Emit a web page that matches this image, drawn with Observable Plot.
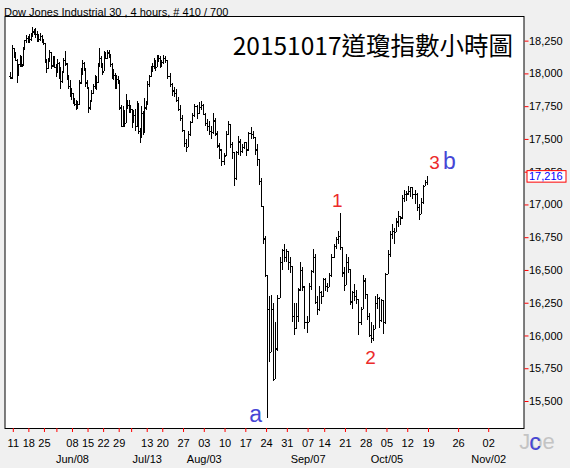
<!DOCTYPE html>
<html><head><meta charset="utf-8">
<script src="https://cdn.jsdelivr.net/npm/d3@7"></script>
<script src="https://cdn.jsdelivr.net/npm/@observablehq/plot@0.6"></script>
<style>html,body{margin:0;padding:0;background:#f0f0f0;overflow:hidden}</style>
</head><body><div id="chart"></div>
<script>
// ---- data: two 4-hour-ish bars per trading day [open, high, low, close]
const may = [
 ["05-08",[17980,18010,17955,17965],[17970,18215,17960,18191]],
 ["05-11",[18191,18195,18120,18140],[18140,18160,18095,18105]],
 ["05-12",[18100,18110,17930,17990],[17990,18070,17980,18068]],
 ["05-13",[18070,18140,18050,18120],[18120,18130,18050,18060]],
 ["05-14",[18070,18200,18060,18190],[18190,18255,18180,18252]],
 ["05-15",[18252,18290,18230,18270],[18270,18285,18235,18272]],
 ["05-18",[18270,18300,18230,18260],[18260,18305,18250,18298]],
 ["05-19",[18300,18351,18280,18320],[18320,18340,18290,18312]],
 ["05-20",[18312,18345,18270,18300],[18300,18320,18240,18285]],
 ["05-21",[18285,18300,18240,18260],[18260,18310,18250,18285]],
 ["05-22",[18285,18290,18230,18250],[18250,18260,18220,18232]],
 ["05-26",[18232,18232,18080,18090],[18090,18110,18000,18041]],
 ["05-27",[18041,18120,18030,18100],[18100,18180,18090,18162]],
 ["05-28",[18162,18162,18030,18060],[18060,18130,18050,18126]],
 ["05-29",[18126,18130,18040,18050],[18050,18070,17970,18011]]
];
const jun = [
 ["06-01",[18011,18110,18000,18080],[18080,18090,17960,18040]],
 ["06-02",[18040,18050,17880,17940],[17940,18020,17930,18011]],
 ["06-03",[18011,18120,18000,18100],[18100,18170,18060,18076]],
 ["06-04",[18076,18076,17950,17970],[17970,17990,17880,17906]],
 ["06-05",[17906,17950,17820,17870],[17870,17890,17800,17849]],
 ["06-08",[17849,17850,17770,17790],[17790,17810,17750,17766]],
 ["06-09",[17766,17800,17720,17740],[17740,17790,17725,17764]],
 ["06-10",[17764,17950,17760,17930],[17930,18040,17920,18000]],
 ["06-11",[18000,18100,17990,18080],[18080,18090,18020,18039]],
 ["06-12",[18039,18039,17900,17930],[17930,17950,17880,17898]],
 ["06-15",[17898,17898,17700,17740],[17740,17800,17720,17791]],
 ["06-16",[17791,17870,17780,17850],[17850,17920,17840,17904]],
 ["06-17",[17904,17990,17880,17950],[17950,17980,17870,17935]],
 ["06-18",[17935,18080,17930,18060],[18060,18190,18050,18115]],
 ["06-19",[18115,18130,18040,18060],[18060,18080,17990,18015]],
 ["06-22",[18015,18170,18015,18130],[18130,18160,18110,18120]],
 ["06-23",[18120,18180,18110,18160],[18160,18175,18120,18144]],
 ["06-24",[18144,18150,18050,18070],[18070,18080,17960,17966]],
 ["06-25",[17966,18030,17950,17990],[17990,18000,17880,17890]],
 ["06-26",[17890,17990,17880,17960],[17960,17980,17920,17947]],
 ["06-29",[17947,17947,17720,17740],[17740,17760,17590,17596]],
 ["06-30",[17596,17750,17590,17700],[17700,17720,17590,17620]]
];
const jul = [
 ["07-01",[17620,17840,17620,17790],[17790,17800,17730,17758]],
 ["07-02",[17758,17800,17700,17720],[17720,17760,17700,17730]],
 ["07-06",[17730,17730,17580,17640],[17640,17720,17620,17684]],
 ["07-07",[17684,17730,17560,17600],[17600,17790,17590,17776]],
 ["07-08",[17776,17776,17540,17560],[17560,17580,17470,17515]],
 ["07-09",[17515,17750,17510,17700],[17700,17710,17530,17548]],
 ["07-10",[17548,17810,17548,17740],[17740,17790,17720,17760]],
 ["07-13",[17760,17940,17760,17920],[17920,17990,17900,17978]],
 ["07-14",[17978,18060,17970,18030],[18030,18080,18010,18054]],
 ["07-15",[18054,18120,18030,18080],[18080,18100,18020,18051]],
 ["07-16",[18051,18140,18050,18110],[18110,18140,18090,18120]],
 ["07-17",[18120,18130,18040,18060],[18060,18100,18050,18086]],
 ["07-20",[18086,18137,18070,18120],[18120,18130,18080,18100]],
 ["07-21",[18100,18100,17960,17980],[17980,18000,17900,17919]],
 ["07-22",[17919,17930,17830,17870],[17870,17900,17820,17851]],
 ["07-23",[17851,17880,17780,17800],[17800,17820,17710,17731]],
 ["07-24",[17731,17760,17640,17660],[17660,17680,17550,17569]],
 ["07-27",[17569,17569,17440,17470],[17470,17500,17400,17441]],
 ["07-28",[17441,17560,17440,17540],[17540,17640,17520,17631]],
 ["07-29",[17631,17700,17620,17680],[17680,17770,17670,17751]],
 ["07-30",[17751,17760,17650,17700],[17700,17780,17690,17746]],
 ["07-31",[17746,17790,17720,17760],[17760,17770,17680,17690]]
];
const aug = [
 ["08-03",[17690,17700,17600,17620],[17620,17650,17560,17598]],
 ["08-04",[17598,17640,17530,17560],[17560,17600,17500,17550]],
 ["08-05",[17550,17700,17540,17640],[17640,17660,17520,17541]],
 ["08-06",[17541,17560,17430,17450],[17450,17470,17350,17420]],
 ["08-07",[17420,17420,17290,17330],[17330,17390,17300,17373]],
 ["08-10",[17373,17560,17373,17540],[17540,17640,17530,17615]],
 ["08-11",[17615,17615,17430,17460],[17460,17480,17350,17403]],
 ["08-12",[17403,17403,17140,17200],[17200,17410,17190,17402]],
 ["08-13",[17402,17520,17380,17480],[17480,17500,17370,17409]],
 ["08-14",[17409,17460,17390,17440],[17440,17480,17420,17477]],
 ["08-17",[17477,17480,17370,17420],[17420,17550,17410,17546]],
 ["08-18",[17546,17590,17500,17540],[17540,17560,17500,17512]],
 ["08-19",[17512,17512,17380,17420],[17420,17460,17290,17349]],
 ["08-20",[17349,17349,17150,17180],[17180,17200,16980,16990]],
 ["08-21",[16990,16990,16700,16740],[16740,16760,16450,16460]],
 ["08-24",[16460,16460,15370,16200],[16200,16300,15800,15871]],
 ["08-25",[15871,16310,15871,16200],[16200,16250,15650,15666]],
 ["08-26",[15666,16100,15666,15900],[15900,16310,15880,16285]],
 ["08-27",[16285,16600,16285,16560],[16560,16660,16500,16655]],
 ["08-28",[16655,16700,16560,16600],[16600,16660,16560,16643]],
 ["08-31",[16643,16643,16500,16560],[16560,16600,16480,16528]]
];
const sep = [
 ["09-01",[16528,16528,16100,16150],[16150,16250,16000,16058]],
 ["09-02",[16058,16250,16050,16150],[16150,16360,16100,16351]],
 ["09-03",[16351,16560,16340,16500],[16500,16520,16340,16374]],
 ["09-04",[16374,16374,16050,16100],[16100,16150,16020,16102]],
 ["09-08",[16102,16400,16102,16380],[16380,16500,16350,16492]],
 ["09-09",[16492,16660,16480,16600],[16600,16620,16240,16253]],
 ["09-10",[16253,16300,16160,16200],[16200,16380,16190,16330]],
 ["09-11",[16330,16340,16240,16300],[16300,16440,16290,16433]],
 ["09-14",[16433,16440,16340,16380],[16380,16400,16330,16370]],
 ["09-15",[16370,16480,16370,16460],[16460,16620,16450,16599]],
 ["09-16",[16599,16700,16590,16680],[16680,16750,16660,16739]],
 ["09-17",[16739,16800,16700,16760],[16760,16933,16650,16675]],
 ["09-18",[16675,16675,16450,16480],[16480,16520,16340,16384]],
 ["09-21",[16384,16620,16384,16560],[16560,16600,16480,16510]],
 ["09-22",[16510,16510,16230,16260],[16260,16340,16200,16330]],
 ["09-23",[16330,16390,16260,16300],[16300,16350,16240,16280]],
 ["09-24",[16280,16280,16000,16100],[16100,16220,16080,16201]],
 ["09-25",[16201,16465,16201,16420],[16420,16440,16280,16315]],
 ["09-28",[16315,16315,16120,16150],[16150,16170,15990,16001]],
 ["09-29",[16001,16100,15942,15980],[15980,16080,15960,16049]],
 ["09-30",[16049,16300,16049,16250],[16250,16320,16200,16285]]
];
const oct = [
 ["10-01",[16285,16290,16060,16120],[16120,16280,16100,16272]],
 ["10-02",[16272,16272,16013,16100],[16100,16480,16090,16472]],
 ["10-05",[16472,16650,16472,16620],[16620,16800,16600,16776]],
 ["10-06",[16776,16850,16740,16800],[16800,16820,16700,16790]],
 ["10-07",[16790,16900,16790,16870],[16870,16950,16830,16912]],
 ["10-08",[16912,16912,16840,16900],[16900,17070,16890,17050]],
 ["10-09",[17050,17110,17020,17080],[17080,17100,17030,17084]],
 ["10-12",[17084,17140,17070,17100],[17100,17135,17060,17131]],
 ["10-13",[17131,17131,17040,17080],[17080,17110,17000,17082]],
 ["10-14",[17082,17090,16950,16980],[16980,17000,16880,16924]],
 ["10-15",[16924,17050,16924,17020],[17020,17150,17000,17141]],
 ["10-16",[17141,17190,17140,17170],[17170,17220,17150,17216]]
];
const yTicks = [15500,15750,16000,16250,16500,16750,17000,17250,17500,17750,18000,18250];
const weeks = ["05-11","05-18","05-25","06-01","06-08","06-15","06-22","06-29","07-06","07-13","07-20","07-27",
  "08-03","08-10","08-17","08-24","08-31","09-07","09-14","09-21","09-28","10-05","10-12","10-19","10-26","11-02"];
const weekLabels = ["11","18","25","","08","15","22","29","","13","20","27",
  "03","10","17","24","31","07","14","21","28","05","12","19","26","02"];
const monthWeeks = ["06-08","07-13","08-03","09-07","10-05","11-02"];
const monthLabels = ["Jun/08","Jul/13","Aug/03","Sep/07","Oct/05","Nov/02"];
const waveLabels = ["a","1","2","3","b"];
const waveDates = ["08-24","09-17","09-29","10-16","10-16"];
const headerText = "Dow Jones Industrial 30 , 4 hours, # 410 / 700";
const titleText = "20151017道瓊指數小時圖";

// ---- build bars on a trading-slot axis
const days = [...may, ...jun, ...jul, ...aug, ...sep, ...oct];
const switchDay = "07-20";
const daySlot = new Map();
const bars = [];
let slot = -1;
for (const [d, a, b] of days) {
  const s = d < switchDay ? 3 : 4;
  daySlot.set(d, slot);
  [a, b].forEach((v, j) => bars.push({day: d, j, x: slot + s * (j ? 0.75 : 0.25),
    open: v[0], high: v[1], low: v[2], close: v[3]}));
  slot += s;
}
const lastEnd = slot;
const futurePerWeek = 29;
const parse = d => new Date("2015-" + d + "T00:00:00Z");
const fmtMD = d3.utcFormat("%m-%d");
const firstFuture = d3.utcMonday.ceil(d3.utcDay.offset(parse(days[days.length-1][0]), 1));
function weekSlot(w) {
  const mon = parse(w);
  for (let k = 0; k < 5; k++) {
    const key = fmtMD(d3.utcDay.offset(mon, k));
    if (daySlot.has(key)) return daySlot.get(key);
  }
  return lastEnd + d3.utcWeek.count(firstFuture, mon) * futurePerWeek;
}
const tickSlots = weeks.map(weekSlot);
const labelBySlot = new Map(tickSlots.map((s, i) => [s, weekLabels[i]]));
const monthData = monthWeeks.map((w, i) => ({x: weekSlot(w), label: monthLabels[i]}));
const lastBar = bars[bars.length - 1];
const lastClose = lastBar.close;

const barOf = (d, j) => bars.find(b => b.day === d && b.j === j);
const waveSpec = [
  {which: "low", j: 0, dx: -12, dy: -4, fill: "#4646d6", size: 23},
  {which: "high", j: 1, dx: -3, dy: -13, fill: "#ec2a2a", size: 19},
  {which: "low", j: 0, dx: -1, dy: 14, fill: "#ec2a2a", size: 19},
  {which: "high", j: 1, dx: 7, dy: -13, fill: "#ec2a2a", size: 19},
  {which: "high", j: 1, dx: 22, dy: -14, fill: "#4646d6", size: 23}
];
const waveMarks = waveLabels.map((lab, i) => {
  const sp = waveSpec[i];
  const b = barOf(waveDates[i], sp.j);
  return Plot.text([{x: b.x, y: b[sp.which], lab}], {x: "x", y: "y", text: "lab",
    dx: sp.dx, dy: sp.dy, fill: sp.fill, fontSize: sp.size, fontFamily: "'Liberation Sans', Arial, sans-serif"});
});

const priceBox = (index, scales, values, dimensions) => {
  const y = scales.y(lastClose);
  const xr = dimensions.width - dimensions.marginRight;
  const g = d3.create("svg:g");
  g.append("rect").attr("x", xr + 3.5).attr("y", y - 5.5).attr("width", 39).attr("height", 11.5)
    .attr("fill", "white").attr("stroke", "red");
  g.append("text").attr("x", xr + 5.5).attr("y", y).attr("dy", "0.36em").attr("fill", "blue")
    .attr("text-anchor", "start").attr("font-size", 11).text(d3.format(",")(lastClose));
  return g.node();
};

const chart = Plot.plot({
  width: 570, height: 468,
  marginTop: 16, marginBottom: 40, marginLeft: 4.5, marginRight: 46.5,
  style: {background: "#f0f0f0", fontFamily: "'Liberation Sans', Arial, sans-serif", fontSize: "11px", color: "black", overflow: "visible"},
  x: {type: "linear", domain: [-6, 494]},
  y: {domain: [15294, 18438]},
  marks: [
    Plot.frame({fill: "white"}),
    Plot.ruleX(bars, {x: "x", y1: "low", y2: "high", stroke: "black", strokeWidth: 1, shapeRendering: "crispEdges"}),
    Plot.ruleY(bars, {y: "open", x1: d => d.x - 1.2, x2: "x", stroke: "black", strokeWidth: 1.2, shapeRendering: "crispEdges"}),
    Plot.ruleY(bars, {y: "close", x1: "x", x2: d => d.x + 1.2, stroke: "black", strokeWidth: 1.2, shapeRendering: "crispEdges"}),
    Plot.frame({stroke: "black"}),
    Plot.axisY({anchor: "right", ticks: yTicks, tickSize: 4, tickPadding: 1, tickFormat: d3.format(","),
      stroke: "red", fill: "black", label: null, fontSize: 11}),
    Plot.axisX({ticks: tickSlots, tickSize: 4, tickPadding: 7, tickFormat: d => labelBySlot.get(d) ?? "",
      stroke: "red", fill: "black", label: null, fontSize: 11}),
    Plot.text(monthData, {x: "x", text: "label", frameAnchor: "bottom", dy: 34, fontSize: 11}),
    Plot.text([headerText], {text: d => d, frameAnchor: "top-left", dx: -1, dy: -8, textAnchor: "start", fontSize: 11}),
    Plot.text([titleText], {text: d => d, frameAnchor: "top-right", dx: -11, dy: 21, textAnchor: "end",
      fontSize: 24.5, fontFamily: "'Noto Sans CJK TC', sans-serif", fill: "black"}),
    priceBox,
    ...waveMarks,
    Plot.text(["Joe"], {text: d => d, frameAnchor: "bottom-right", dx: 13, dy: 20, textAnchor: "middle", fontSize: 22, fill: "#c4c4c4"}),
    Plot.text(["c"], {text: d => d, frameAnchor: "bottom-right", dx: 11, dy: 21, textAnchor: "middle", fontSize: 23, fill: "#4646d6"})
  ]
});
document.getElementById("chart").append(chart);
</script></body></html>
